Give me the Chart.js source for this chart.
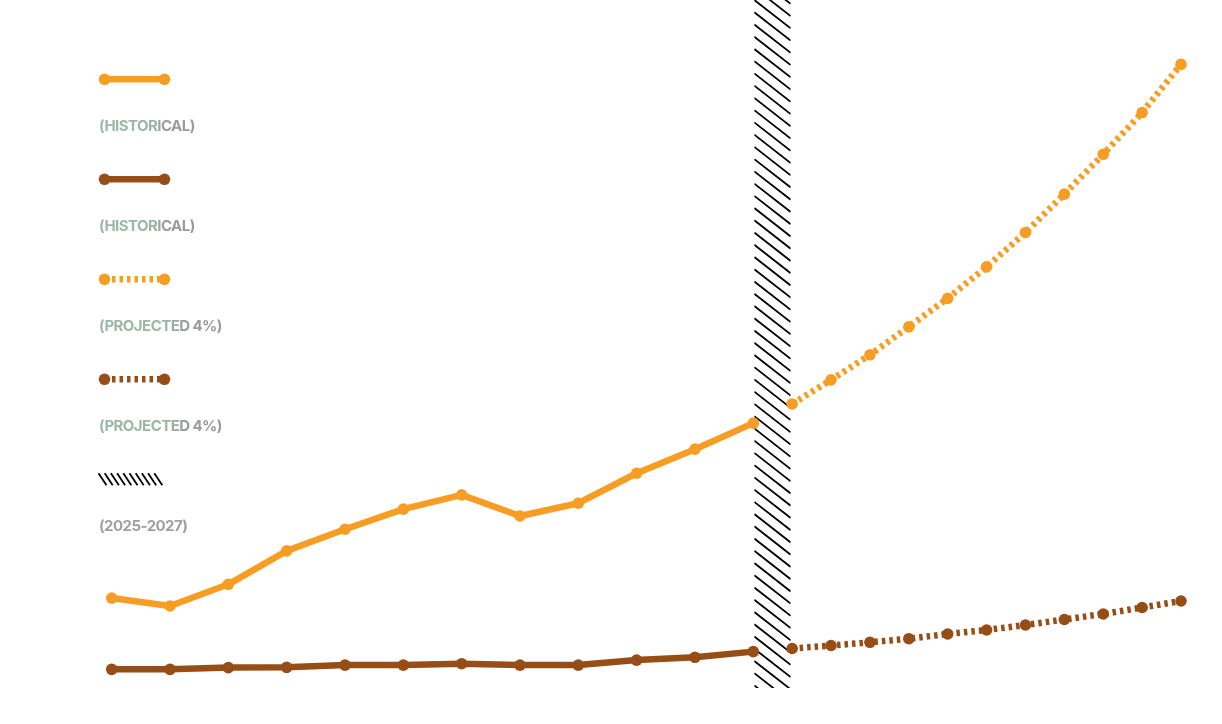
<!DOCTYPE html>
<html>
<head>
<meta charset="utf-8">
<script src="https://cdn.jsdelivr.net/npm/chart.js@4.4.1/dist/chart.umd.min.js"></script>
<style>
html,body{margin:0;padding:0;background:#fff;overflow:hidden}
canvas{display:block}
</style>
</head>
<body>
<canvas id="c" width="1222" height="724"></canvas>
<script>
// ---- data ----
const histX = [0, 1.5, 3, 4.5, 6, 7.5, 9, 10.5, 12, 13.5, 15, 16.5];
const projX = [17.5, 18.5, 19.5, 20.5, 21.5, 22.5, 23.5, 24.5, 25.5, 26.5, 27.5];
const orangeHist = [18.3, 16.7, 21.1, 27.9, 32.3, 36.4, 39.3, 35.0, 37.6, 43.7, 48.6, 53.9];
const brownHist = [3.8, 3.8, 4.15, 4.2, 4.66, 4.66, 4.94, 4.66, 4.66, 5.68, 6.25, 7.4];
const orangeProj = [57.8, 62.7, 67.8, 73.5, 79.3, 85.7, 92.7, 100.5, 108.6, 117.1, 126.9];
const brownProj = [8.04, 8.65, 9.3, 10.03, 10.99, 11.8, 12.82, 13.94, 15.06, 16.38, 17.7];
const legendLabels = ['(HISTORICAL)', '(HISTORICAL)', '(PROJECTED 4%)', '(PROJECTED 4%)', '(2025-2027)'];
const yMin = 0, yMax = 140;

// ---- style ----
const ORANGE = '#F89D23';
const BROWN = '#974D16';
const DASH = [3.5, 4];

const pts = (xs, ys) => xs.map((x, i) => ({ x, y: ys[i] }));

function ds(data, color, dashed) {
  return {
    data,
    borderColor: color,
    backgroundColor: color,
    pointBackgroundColor: color,
    pointBorderWidth: 0,
    pointRadius: 5.8,
    pointHoverRadius: 5.8,
    borderWidth: 6.5,
    borderDash: dashed ? DASH : [],
    borderCapStyle: 'butt',
    borderJoinStyle: 'round',
    tension: 0,
    clip: false
  };
}

const hatchPlugin = {
  id: 'hatchBand',
  beforeDatasetsDraw(chart) {
    const { ctx, chartArea, scales: { x } } = chart;
    const left = x.getPixelForValue(histX[histX.length - 1]) + 1;
    const right = x.getPixelForValue(projX[0]) - 1.5;
    const top = chartArea.top, bottom = chartArea.bottom;
    const w = right - left;
    const slope = 0.78, gap = 12.24;
    ctx.save();
    ctx.beginPath();
    ctx.rect(left, top, w, bottom - top);
    ctx.clip();
    ctx.strokeStyle = '#000';
    ctx.lineWidth = 1.8;
    ctx.beginPath();
    for (let y = top - Math.ceil(w * slope / gap) * gap; y < bottom + gap; y += gap) {
      ctx.moveTo(left, y);
      ctx.lineTo(right, y + w * slope);
    }
    ctx.stroke();
    ctx.restore();
  }
};

const legendItems = [
  { kind: 'line', color: ORANGE, dashed: false },
  { kind: 'line', color: BROWN, dashed: false },
  { kind: 'line', color: ORANGE, dashed: true },
  { kind: 'line', color: BROWN, dashed: true },
  { kind: 'hatch' }
];

const legendPlugin = {
  id: 'sideLegend',
  afterDraw(chart) {
    const ctx = chart.ctx;
    const gx0 = 104.5, gx1 = 164.5, gy0 = 79.3, step = 100, textX = 99, textDy = 47.5;
    legendItems.forEach((it, i) => {
      const y = gy0 + step * i;
      ctx.save();
      if (it.kind === 'line') {
        ctx.strokeStyle = it.color;
        ctx.lineWidth = 6.5;
        ctx.lineCap = 'butt';
        ctx.setLineDash(it.dashed ? DASH : []);
        ctx.beginPath();
        ctx.moveTo(gx0, y);
        ctx.lineTo(gx1, y);
        ctx.stroke();
        ctx.setLineDash([]);
        ctx.fillStyle = it.color;
        [gx0, gx1].forEach(cx => {
          ctx.beginPath();
          ctx.arc(cx, y, 5.8, 0, Math.PI * 2);
          ctx.fill();
        });
      } else {
        ctx.strokeStyle = '#000';
        ctx.lineWidth = 1.8;
        ctx.beginPath();
        for (let k = 0; k < 10; k++) {
          const sx = 98.5 + k * 6.2;
          ctx.moveTo(sx, y - 6);
          ctx.lineTo(sx + 8, y + 6);
        }
        ctx.stroke();
      }
      // label
      const label = legendLabels[i];
      ctx.font = '700 15px Inter, "Noto Sans", sans-serif';
      try { ctx.letterSpacing = '-0.55px'; } catch (e) {}
      ctx.textBaseline = 'middle';
      ctx.textAlign = 'left';
      const tw = ctx.measureText(label).width;
      if (it.kind === 'hatch') {
        ctx.fillStyle = '#a0a0a0';
      } else {
        const g = ctx.createLinearGradient(textX, 0, textX + tw, 0);
        g.addColorStop(0, '#9cb8a8');
        g.addColorStop(0.55, '#9cb6a7');
        g.addColorStop(0.7, '#9a9d9b');
        g.addColorStop(1, '#9a9a9a');
        ctx.fillStyle = g;
      }
      ctx.fillText(label, textX, y + textDy);
      ctx.restore();
    });
  }
};

new Chart(document.getElementById('c'), {
  type: 'line',
  data: {
    datasets: [
      ds(pts(histX, orangeHist), ORANGE, false),
      ds(pts(histX, brownHist), BROWN, false),
      ds(pts(projX, orangeProj), ORANGE, true),
      ds(pts(projX, brownProj), BROWN, true)
    ]
  },
  options: {
    responsive: false,
    animation: false,
    devicePixelRatio: 1,
    layout: { autoPadding: false, padding: { left: 111.7, right: 41, top: 0, bottom: 36 } },
    plugins: { legend: { display: false }, tooltip: { enabled: false } },
    scales: {
      x: { type: 'linear', display: false, min: histX[0], max: projX[projX.length - 1] },
      y: { type: 'linear', display: false, min: yMin, max: yMax }
    }
  },
  plugins: [hatchPlugin, legendPlugin]
});
</script>
</body>
</html>
